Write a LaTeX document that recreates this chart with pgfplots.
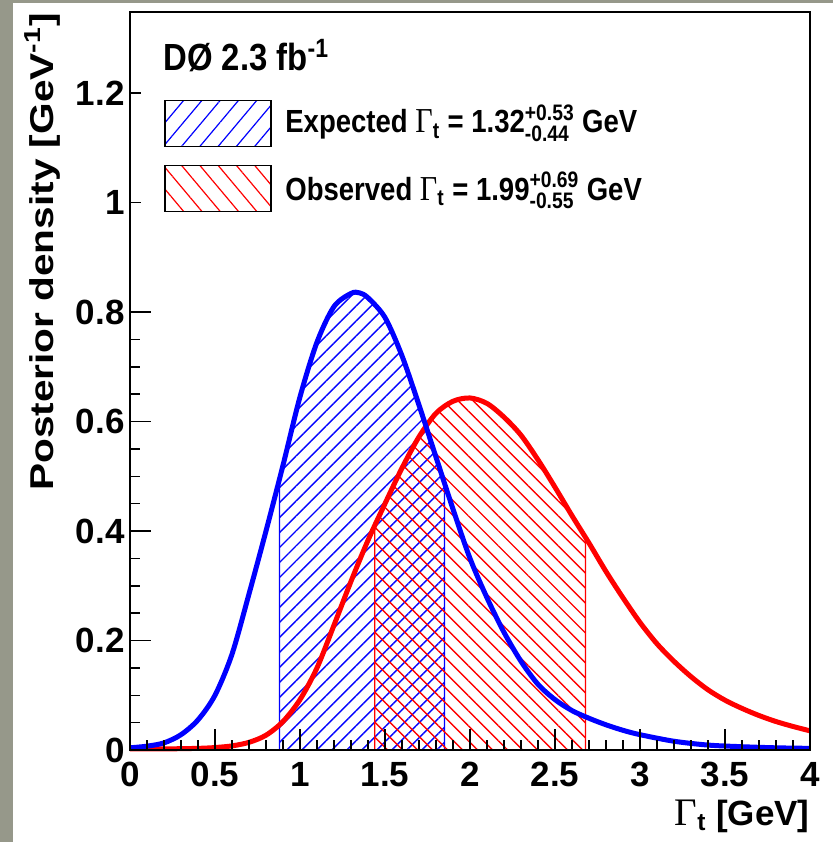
\documentclass[border=0pt]{standalone}
\usepackage{amsmath}
\usepackage{pgfplots}
\pgfplotsset{compat=1.18}
\usepackage{pgfplotstable}
\usetikzlibrary{patterns.meta}
\usepackage{fontspec}
\setmainfont{Liberation Sans}
\newfontfamily\gfont{Liberation Serif}
\definecolor{bggray}{RGB}{150,152,138}
\newcommand{\Gam}[1]{{\fontsize{#1}{#1}\selectfont\mdseries\gfont Γ}}

\pgfplotstableread{
x y
0.0 0.004
0.1 0.007
0.2 0.013
0.3 0.028
0.4 0.055
0.5 0.100
0.6 0.175
0.7 0.285
0.8 0.400
0.9 0.520
1.0 0.645
1.1 0.745
1.2 0.810
1.3 0.834
1.35 0.835
1.4 0.826
1.5 0.790
1.6 0.720
1.7 0.630
1.8 0.535
1.9 0.440
2.0 0.350
2.1 0.278
2.2 0.215
2.3 0.162
2.4 0.120
2.5 0.092
2.6 0.072
2.7 0.058
2.8 0.046
2.9 0.036
3.0 0.028
3.2 0.016
3.4 0.009
3.6 0.006
3.8 0.004
4.0 0.003
}\expcurve

\pgfplotstableread{
x y
0.88 0.496
0.9 0.520
1.0 0.645
1.1 0.745
1.2 0.810
1.3 0.834
1.35 0.835
1.4 0.826
1.5 0.790
1.6 0.720
1.7 0.630
1.8 0.535
1.85 0.4875
}\expband

\pgfplotstableread{
x y
0.0 0.002
0.2 0.002
0.4 0.003
0.5 0.0045
0.6 0.0075
0.7 0.014
0.8 0.027
0.9 0.052
1.0 0.092
1.1 0.150
1.2 0.228
1.3 0.308
1.4 0.383
1.5 0.450
1.6 0.515
1.7 0.572
1.8 0.615
1.9 0.637
2.0 0.643
2.1 0.633
2.2 0.608
2.3 0.575
2.4 0.530
2.5 0.480
2.6 0.428
2.7 0.378
2.8 0.326
2.9 0.278
3.0 0.233
3.1 0.194
3.2 0.162
3.3 0.134
3.4 0.110
3.5 0.091
3.6 0.076
3.7 0.063
3.8 0.052
3.9 0.043
4.0 0.035
}\obscurve

\pgfplotstableread{
x y
1.44 0.410
1.5 0.450
1.6 0.515
1.7 0.572
1.8 0.615
1.9 0.637
2.0 0.643
2.1 0.633
2.2 0.608
2.3 0.575
2.4 0.530
2.5 0.480
2.6 0.428
2.68 0.388
}\obsband

\begin{document}
\begin{tikzpicture}
\fill[bggray] (0pt,0pt) rectangle (416.5pt,421pt);
\fill[white] (6.5pt,0pt) rectangle (416.5pt,419.5pt);
\useasboundingbox (0pt,0pt) rectangle (416.5pt,421pt);
\begin{axis}[
  at={(65pt,46pt)}, anchor=south west,
  scale only axis, width=340pt, height=369pt,
  xmin=0, xmax=4, ymin=0, ymax=1.348,
  clip=false, axis on top,
  axis line style={line width=0.75pt},
  every tick/.style={black, line width=0.75pt},
  tick align=inside, tick pos=left,
  xtick={0,0.5,...,4}, minor x tick num=4,
  ytick={0,0.2,0.4,0.6,0.8}, minor y tick num=3,
  extra y ticks={1,1.2},
  extra y tick style={major tick length=5.5pt},
  major tick length=10.5pt, minor tick length=5.2pt,
  /pgf/number format/assume math mode=true,
  tick label style={font=\fontsize{17.5}{20}\selectfont\bfseries},
  xticklabel style={inner sep=0pt, yshift=-6pt},
  yticklabel style={inner sep=0pt, xshift=-2.5pt},
  xlabel={\Gam{19.5}$_{\text{t}}$ [GeV]},
  xlabel style={at={(axis description cs:1,0)}, anchor=base east, inner sep=0pt, yshift=-37.5pt,
    font=\fontsize{17.5}{20}\selectfont\bfseries},
  ylabel={Posterior density [GeV\textsuperscript{-1}]},
  ylabel style={at={(axis description cs:-0.1132,0.999)}, anchor=base east, inner sep=0pt,
    font=\fontsize{16.5}{20}\selectfont\bfseries, xscale=1.23},
]
\addplot[draw=blue, line width=0.6pt,
  pattern={Lines[angle=45,distance=5.3pt,line width=0.7pt]}, pattern color=blue]
  table {\expband} \closedcycle;
\addplot[draw=red, line width=0.6pt,
  pattern={Lines[angle=-45,distance=5.3pt,line width=0.7pt]}, pattern color=red]
  table {\obsband} \closedcycle;
\addplot[red, line width=2.5pt, smooth, tension=0.5] table {\obscurve};
\addplot[blue, line width=2.5pt, smooth, tension=0.5] table {\expcurve};

\draw[black, line width=0.6pt, pattern={Lines[angle=50,distance=7pt,line width=0.6pt]}, pattern color=blue]
  (axis cs:0.206,1.103) rectangle (axis cs:0.829,1.187);
\draw[black, line width=0.6pt, pattern={Lines[angle=-50,distance=7pt,line width=0.6pt]}, pattern color=red]
  (axis cs:0.206,0.983) rectangle (axis cs:0.829,1.067);

\node[anchor=base west, inner sep=0pt, font=\fontsize{18.9}{22}\selectfont\bfseries, xscale=0.87]
  at (axis cs:0.194,1.242) {DØ 2.3 fb\textsuperscript{-1}};
\node[anchor=base west, inner sep=0pt, font=\fontsize{16}{20}\selectfont\bfseries, xscale=0.86]
  at (axis cs:0.912,1.127) {Expected \Gam{17.5}$_{\text{t}}$ = 1.32$^{\text{+0.53}}_{\text{-0.44}}$ GeV};
\node[anchor=base west, inner sep=0pt, font=\fontsize{16}{20}\selectfont\bfseries, xscale=0.86]
  at (axis cs:0.912,1.0046) {Observed \Gam{17.5}$_{\text{t}}$ = 1.99$^{\text{+0.69}}_{\text{-0.55}}$ GeV};
\end{axis}
\end{tikzpicture}
\end{document}
